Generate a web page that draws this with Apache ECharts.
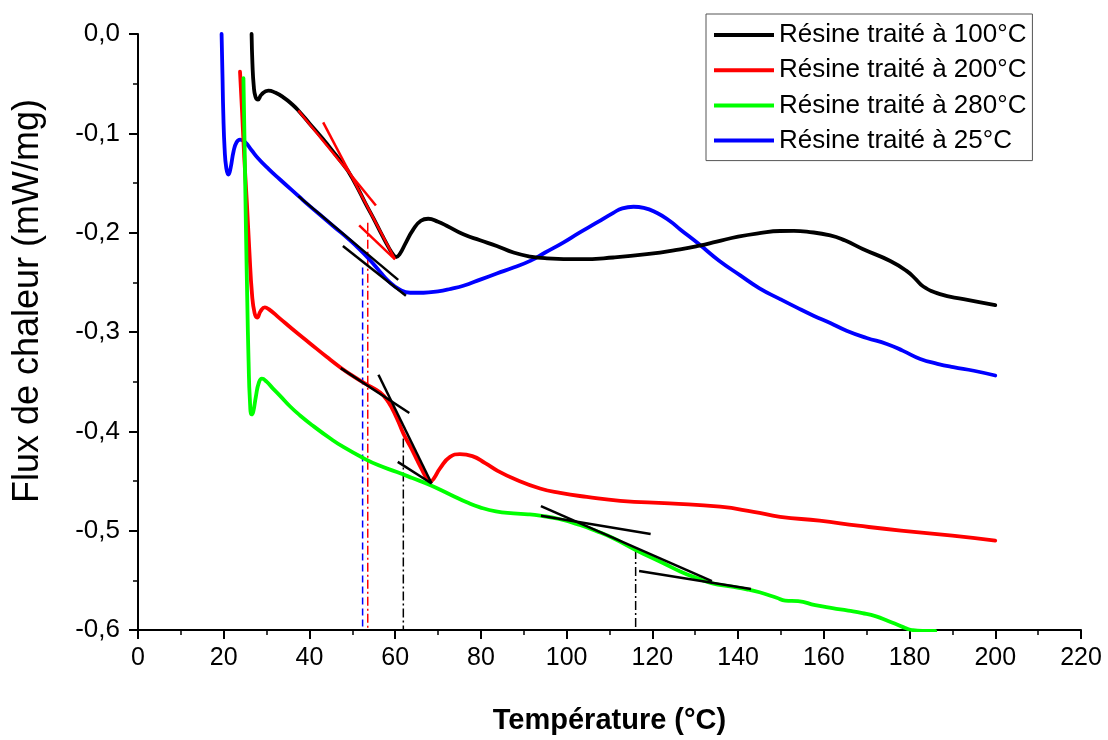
<!DOCTYPE html>
<html>
<head>
<meta charset="utf-8">
<script src="https://cdn.jsdelivr.net/npm/echarts@6/dist/echarts.min.js"></script>
<style>
  html, body { margin: 0; padding: 0; background: #ffffff; }
  #chart { width: 1108px; height: 740px; }
</style>
</head>
<body>
<div id="chart"></div>
<script>
// DSC curves: heat flux (mW/mg) against temperature (°C)
const seriesNames = [
  'Résine traité à 100°C',
  'Résine traité à 200°C',
  'Résine traité à 280°C',
  'Résine traité à 25°C'
];

const resine100 = [
  [26.5, 0], [26.7, -0.03], [27.0, -0.052], [27.4, -0.063], [28.0, -0.066], [28.8, -0.061],
  [30.4, -0.057], [32, -0.059], [34, -0.064], [36, -0.071], [37.4, -0.077], [40, -0.090],
  [43, -0.105], [46, -0.121], [48, -0.132], [49, -0.138], [51, -0.153], [53, -0.170],
  [55, -0.186], [57, -0.203], [58.5, -0.215], [59.5, -0.222], [60.2, -0.2245], [61, -0.222],
  [62.5, -0.210], [64.2, -0.197], [66, -0.188], [67.7, -0.186], [70, -0.189], [72, -0.193],
  [75.9, -0.2017], [79.8, -0.2077], [83.7, -0.2134], [87.6, -0.22], [91.5, -0.224],
  [95.4, -0.2258], [103.1, -0.2267], [110.9, -0.225], [118.7, -0.2217], [126.5, -0.2167],
  [131, -0.213], [135, -0.209], [140, -0.204], [145, -0.2005], [149.8, -0.1983], [153, -0.1982],
  [156, -0.199], [161.5, -0.2027], [165, -0.208], [169.2, -0.2167], [175.5, -0.2285],
  [179.3, -0.2385], [181.5, -0.247], [183.2, -0.2542], [187.1, -0.2619], [192.6, -0.2669],
  [200, -0.2729]
];

const resine200 = [
  [23.8, -0.038], [24.3, -0.08], [24.8, -0.125], [25.4, -0.17], [26.0, -0.22], [26.6, -0.262],
  [27.2, -0.281], [27.8, -0.2855], [28.6, -0.279], [29.6, -0.2752], [30.5, -0.277], [33, -0.286],
  [36, -0.297], [40, -0.311], [44, -0.325], [47.3, -0.336], [50, -0.344], [53, -0.352],
  [56.5, -0.361], [58.4, -0.3705], [60.4, -0.387], [61.9, -0.402], [63.5, -0.415], [65, -0.428],
  [66.3, -0.439], [67.3, -0.447], [68.2, -0.4505], [69, -0.4475], [70.5, -0.437], [72.8, -0.4257],
  [75.1, -0.423], [78, -0.425], [81, -0.432], [84, -0.44], [87.6, -0.4475], [93.8, -0.4575],
  [98.5, -0.462], [104.7, -0.466], [112.5, -0.470], [124, -0.4726], [135.8, -0.4759],
  [143.6, -0.481], [149.8, -0.486], [159, -0.490], [168, -0.495], [178, -0.500], [190, -0.505],
  [200, -0.510]
];

const resine280 = [
  [24.6, -0.0445], [24.9, -0.12], [25.2, -0.2], [25.5, -0.27], [25.8, -0.33], [26.1, -0.368],
  [26.5, -0.383], [26.9, -0.380], [27.5, -0.365], [28.2, -0.351], [28.9, -0.347], [30, -0.35],
  [31.5, -0.357], [33.1, -0.364], [35.5, -0.375], [37.8, -0.384], [41, -0.395], [44.8, -0.407],
  [48, -0.416], [52.6, -0.427], [56, -0.434], [60.4, -0.441], [64, -0.447], [68.1, -0.454],
  [72.8, -0.4635], [77, -0.472], [79.8, -0.4765], [83.5, -0.4805], [87.6, -0.4825], [91, -0.4835],
  [93.8, -0.4849], [98, -0.488], [103.1, -0.4943], [107, -0.5005], [110.9, -0.5077],
  [116.1, -0.5194], [122.6, -0.5328], [126.5, -0.541], [130.4, -0.5478], [134, -0.553],
  [138.1, -0.5562], [142, -0.559], [145, -0.562], [149, -0.5675], [151, -0.5705], [154, -0.571],
  [158, -0.575], [162, -0.578], [165.7, -0.5805], [169, -0.583], [172.2, -0.5863], [175, -0.591],
  [177.2, -0.5947], [179, -0.598], [180.5, -0.600], [183, -0.601], [186, -0.601]
];

const resine25 = [
  [19.5, 0], [19.7, -0.04], [19.9, -0.08], [20.2, -0.115], [20.6, -0.135], [21.1, -0.1415],
  [21.6, -0.135], [22.3, -0.118], [23, -0.109], [23.8, -0.1064], [25, -0.109], [26.5, -0.117],
  [28, -0.125], [30.5, -0.136], [33, -0.146], [37.4, -0.163], [40, -0.173], [43, -0.184],
  [46, -0.195], [49, -0.206], [52, -0.218], [54, -0.227], [56.5, -0.2395], [58.5, -0.249],
  [61.1, -0.2575], [63.5, -0.2605], [66.6, -0.2605], [70, -0.259], [73, -0.2565], [75.9, -0.2535],
  [80, -0.247], [83.7, -0.2411], [87.6, -0.235], [91.5, -0.2284], [95, -0.220], [99.2, -0.21],
  [103, -0.200], [107, -0.19], [110.9, -0.18], [113, -0.1755], [115.6, -0.1739], [118, -0.175],
  [121, -0.18], [124, -0.188], [126.5, -0.1967], [131, -0.212], [135.5, -0.228], [140.5, -0.243],
  [145, -0.256], [149.8, -0.2669], [153.5, -0.275], [157.6, -0.2836], [161.5, -0.291],
  [165.3, -0.2987], [170, -0.306], [174.7, -0.312], [178.5, -0.319], [182.5, -0.3271],
  [186.5, -0.332], [190.2, -0.3354], [195, -0.339], [200, -0.3438]
];

// Construction lines used to locate the glass transitions
const tangentsOn100 = [
  [[37.4, -0.077], [55.5, -0.1726]],
  [[43.2, -0.089], [59.96, -0.2268]],
  [[51.6, -0.1926], [59.96, -0.2268]]
];
const tangentsOther = [
  [[37.4, -0.1632], [60.7, -0.2475]],
  [[47.8, -0.2134], [62.5, -0.2636]],
  [[47.3, -0.3364], [63.3, -0.3815]],
  [[56.1, -0.3431], [68.5, -0.4525]],
  [[60.6, -0.4307], [68.5, -0.4525]],
  [[94.0, -0.4849], [119.6, -0.5033]],
  [[94.0, -0.4753], [133.9, -0.5508]],
  [[116.9, -0.5405], [143.0, -0.5588]]
];

// Glass transition temperatures (°C) and the flux where each marker starts
const tgTemps = [52.4, 53.6, 61.9, 116.1];
const tgTops = [-0.235, -0.19, -0.4073, -0.5194];

// Axis ranges
const xRange = { min: 0, max: 220, step: 20 };
const yRange = { min: -0.6, max: 0, step: 0.1 };

const curveColors = ['#000000', '#ff0000', '#00ff00', '#0000ff'];
const tgColors = ['#0000ff', '#ff0000', '#000000', '#000000'];
const tgDash = [[7, 4], [9, 3, 2, 3], [9, 3, 2, 3], [9, 3, 2, 3]];

const curves = [resine100, resine200, resine280, resine25];
const drawOrder = [3, 0, 1, 2];

const series = [];
drawOrder.forEach(function (i) {
  series.push({
    name: seriesNames[i],
    type: 'line',
    data: curves[i],
    showSymbol: false,
    symbol: 'none',
    smooth: 0.5,
    clip: true,
    z: 3,
    lineStyle: { color: curveColors[i], width: 3.8, cap: 'round', join: 'round' },
    itemStyle: { color: curveColors[i] }
  });
});

tangentsOn100.forEach(function (seg) {
  series.push({
    type: 'line', data: seg, symbol: 'none', silent: true, z: 4,
    lineStyle: { color: '#ff0000', width: 2.5 }
  });
});
tangentsOther.forEach(function (seg) {
  series.push({
    type: 'line', data: seg, symbol: 'none', silent: true, z: 4,
    lineStyle: { color: '#000000', width: 2.5 }
  });
});
tgTemps.forEach(function (t, k) {
  series.push({
    type: 'line', data: [[t, tgTops[k]], [t, yRange.min]], symbol: 'none', silent: true, z: 2,
    lineStyle: { color: tgColors[k], width: 1.5, type: tgDash[k] }
  });
});

const chart = echarts.init(document.getElementById('chart'), null, { renderer: 'canvas' });
chart.setOption({
  backgroundColor: '#ffffff',
  animation: false,
  grid: { left: 138, top: 34, right: 27, bottom: 108, containLabel: false },
  legend: {
    data: seriesNames.map(function (n, i) {
      return { name: n, itemStyle: { color: curveColors[i] } };
    }),
    orient: 'vertical',
    left: 706,
    top: 14,
    icon: 'rect',
    itemWidth: 60,
    itemHeight: 4,
    itemGap: 9.2,
    padding: [8, 6, 7, 8],
    borderColor: '#555555',
    borderWidth: 1,
    textStyle: { fontFamily: 'Liberation Sans, Arial, sans-serif', fontSize: 26, color: '#000', lineHeight: 26 }
  },
  xAxis: {
    type: 'value',
    min: xRange.min,
    max: xRange.max,
    interval: xRange.step,
    name: 'Température (°C)',
    nameLocation: 'middle',
    nameGap: 76,
    nameTextStyle: {
      fontFamily: 'Liberation Sans, Arial, sans-serif',
      fontWeight: 'bold', fontSize: 29, color: '#000'
    },
    axisLine: { show: true, onZero: false, lineStyle: { color: '#000', width: 2 } },
    axisTick: { show: true, inside: false, length: 9, lineStyle: { color: '#000', width: 2 } },
    minorTick: { show: true, splitNumber: 2, length: 5, lineStyle: { color: '#000', width: 1.5 } },
    splitLine: { show: false },
    minorSplitLine: { show: false },
    axisLabel: {
      margin: 16, color: '#000', fontSize: 25,
      fontFamily: 'Liberation Sans, Arial, sans-serif'
    }
  },
  yAxis: {
    type: 'value',
    min: yRange.min,
    max: yRange.max,
    interval: yRange.step,
    name: 'Flux de chaleur (mW/mg)',
    nameLocation: 'middle',
    nameRotate: 90,
    nameGap: 92,
    nameTextStyle: {
      fontFamily: 'Liberation Sans, Arial, sans-serif', fontSize: 36, color: '#000',
      padding: [0, 0, 0, 62]
    },
    axisLine: { show: true, onZero: false, lineStyle: { color: '#000', width: 2 } },
    axisTick: { show: true, inside: false, length: 9, lineStyle: { color: '#000', width: 2 } },
    minorTick: { show: true, splitNumber: 2, length: 5, lineStyle: { color: '#000', width: 1.5 } },
    splitLine: { show: false },
    minorSplitLine: { show: false },
    axisLabel: {
      margin: 18, color: '#000', fontSize: 26,
      fontFamily: 'Liberation Sans, Arial, sans-serif',
      formatter: function (v) { return v.toFixed(1).replace('.', ','); }
    }
  },
  series: series
});
</script>
</body>
</html>
